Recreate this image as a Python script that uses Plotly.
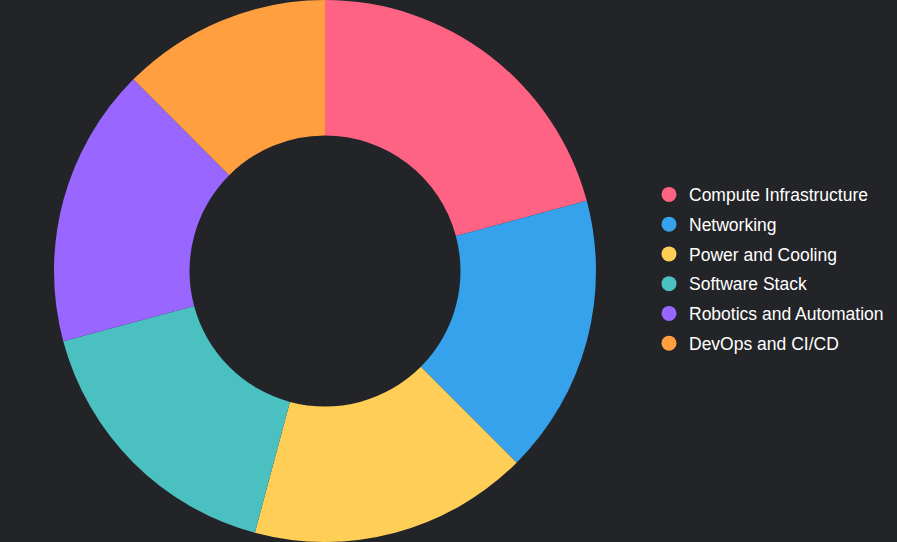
import plotly.graph_objects as go

categories = ["Compute Infrastructure", "Networking", "Power and Cooling",
              "Software Stack", "Robotics and Automation", "DevOps and CI/CD"]
values = [25, 20, 20, 20, 20, 15]
colors = ["#FF6384", "#36A2EB", "#FFCE56", "#4BC0C0", "#9966FF", "#FF9F40"]

W, H = 897, 542
bg = "#232428"

fig = go.Figure()
fig.add_trace(go.Pie(
    labels=categories, values=values, hole=0.5, sort=False,
    direction="clockwise", rotation=0,
    marker=dict(colors=colors, line=dict(width=0)),
    textinfo="none", showlegend=False,
    domain=dict(x=[0, 650 / W], y=[0, 1]),
))
for name, c in zip(categories, colors):
    fig.add_trace(go.Scatter(
        x=[None], y=[None], mode="markers", name=name, legendgroup=name,
        marker=dict(symbol="circle", size=15, color=c),
    ))

fig.update_layout(
    width=W, height=H,
    paper_bgcolor=bg, plot_bgcolor=bg,
    margin=dict(l=0, r=0, t=0, b=0),
    xaxis=dict(visible=False, domain=[0.95, 1]),
    yaxis=dict(visible=False),
    font=dict(family="Liberation Sans, Arial, sans-serif", size=17.5, color="#ffffff"),
    legend=dict(x=649 / W, xanchor="left", y=0.5 + 2 / H, yanchor="middle",
                tracegroupgap=4, bgcolor="rgba(0,0,0,0)",
                itemclick=False, itemdoubleclick=False),
    showlegend=True,
)
fig.write_html("out.html")
